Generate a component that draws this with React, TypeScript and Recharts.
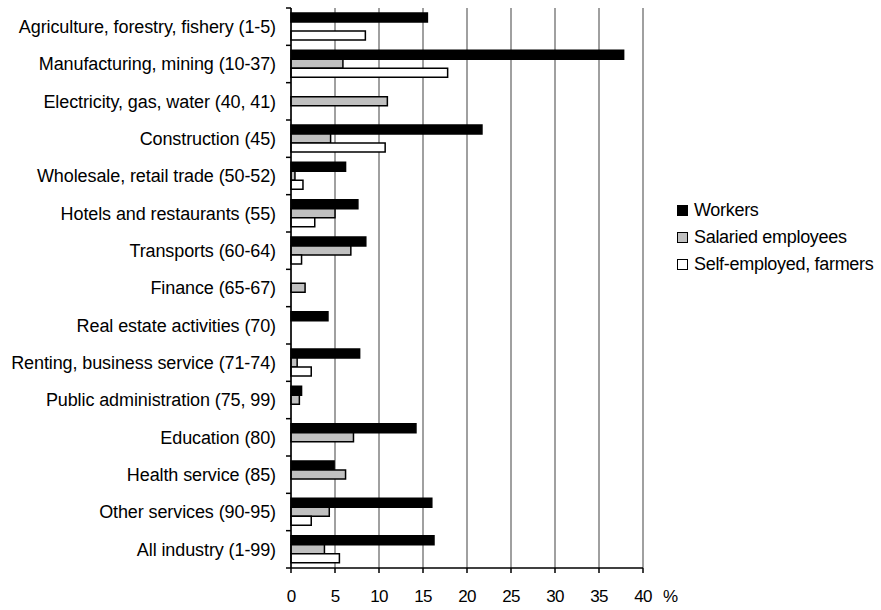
import React from 'react';
import { BarChart, Bar, XAxis, YAxis, CartesianGrid, Label } from 'recharts';

const categories = [
  'Agriculture, forestry, fishery (1-5)',
  'Manufacturing, mining (10-37)',
  'Electricity, gas, water (40, 41)',
  'Construction (45)',
  'Wholesale, retail trade (50-52)',
  'Hotels and restaurants (55)',
  'Transports (60-64)',
  'Finance (65-67)',
  'Real estate activities (70)',
  'Renting, business service (71-74)',
  'Public administration (75, 99)',
  'Education (80)',
  'Health service (85)',
  'Other services (90-95)',
  'All industry (1-99)',
];

const workers = [15.5, 37.8, 0, 21.7, 6.2, 7.6, 8.5, 0, 4.2, 7.8, 1.2, 14.2, 4.9, 16.0, 16.25];
const salaried = [0, 5.9, 10.95, 4.5, 0.45, 5.0, 6.8, 1.6, 0, 0.7, 0.95, 7.1, 6.2, 4.35, 3.8];
const selfEmployed = [8.45, 17.8, 0, 10.7, 1.36, 2.7, 1.2, 0, 0, 2.3, 0, 0, 0, 2.3, 5.5];

const xTicks = [0, 5, 10, 15, 20, 25, 30, 35, 40];

const data = categories.map((name, i) => ({
  name,
  Workers: workers[i],
  'Salaried employees': salaried[i],
  'Self-employed, farmers': selfEmployed[i],
}));

const FONT = '"Liberation Sans", Arial, sans-serif';
const PLOT_H = 560;
const band = PLOT_H / categories.length;

const CatTick = (props: any) => {
  const { x, y, payload, index } = props;
  return (
    <g>
      <line x1={x - 5} x2={x} y1={y - band / 2} y2={y - band / 2} stroke="#000" strokeWidth={1.5} />
      {index === categories.length - 1 && (
        <line x1={x - 5} x2={x} y1={y + band / 2} y2={y + band / 2} stroke="#000" strokeWidth={1.5} />
      )}
      <text x={x - 15} y={y} dy="0.35em" textAnchor="end" fontSize={18} fill="#000" fontFamily={FONT} letterSpacing={-0.1}>
        {payload.value}
      </text>
    </g>
  );
};

const legendItems = [
  { label: 'Workers', fill: '#000' },
  { label: 'Salaried employees', fill: '#c0c0c0' },
  { label: 'Self-employed, farmers', fill: '#fff' },
];

// legend sits outside the chart so it doesn't eat the plot width
const LegendBox = () => (
  <div
    style={{
      position: 'absolute',
      left: 677,
      top: 197,
      fontFamily: FONT,
      fontSize: 18,
      color: '#000',
      letterSpacing: -0.3,
    }}
  >
    {legendItems.map((it) => (
      <div key={it.label} style={{ display: 'flex', alignItems: 'center', height: 27, whiteSpace: 'nowrap' }}>
        <span
          style={{
            width: 9,
            height: 9,
            background: it.fill,
            border: '1.5px solid #000',
            marginRight: 6,
            display: 'inline-block',
          }}
        />
        {it.label}
      </div>
    ))}
  </div>
);

export default function App() {
  return (
    <div style={{ position: 'absolute', left: 0, top: 0, width: 881, height: 610, background: '#fff', overflow: 'hidden' }}>
      <BarChart
        width={881}
        height={610}
        data={data}
        layout="vertical"
        margin={{ top: 8, right: 238, bottom: 0, left: 0 }}
        barCategoryGap={5}
        barGap={0}
      >
        <CartesianGrid horizontal={false} stroke="#808080" strokeWidth={1.5} />
        <XAxis
          type="number"
          domain={[0, 40]}
          ticks={xTicks}
          interval={0}
          height={42}
          tickSize={5}
          tickMargin={17}
          axisLine={{ stroke: '#000', strokeWidth: 1.5 }}
          tickLine={{ stroke: '#000', strokeWidth: 1.5 }}
          tick={{ fontSize: 17, fill: '#000', fontFamily: FONT, letterSpacing: -0.8 }}
        >
          <Label value="%" position="right" offset={20} dy={7} fontSize={17} fill="#000" fontFamily={FONT} />
        </XAxis>
        <XAxis
          xAxisId="top"
          orientation="top"
          type="number"
          domain={[0, 40]}
          height={0}
          tick={false}
          tickLine={false}
          axisLine={{ stroke: '#808080', strokeWidth: 1.5 }}
        />
        <YAxis
          type="category"
          dataKey="name"
          width={291}
          interval={0}
          tickSize={0}
          tickMargin={0}
          tickLine={false}
          axisLine={{ stroke: '#000', strokeWidth: 1.5 }}
          tick={<CatTick />}
        />
        <Bar dataKey="Workers" fill="#000" stroke="#000" strokeWidth={1.5} isAnimationActive={false} />
        <Bar dataKey="Salaried employees" fill="#c0c0c0" stroke="#000" strokeWidth={1.5} isAnimationActive={false} />
        <Bar dataKey="Self-employed, farmers" fill="#fff" stroke="#000" strokeWidth={1.5} isAnimationActive={false} />
      </BarChart>
      <LegendBox />
    </div>
  );
}
